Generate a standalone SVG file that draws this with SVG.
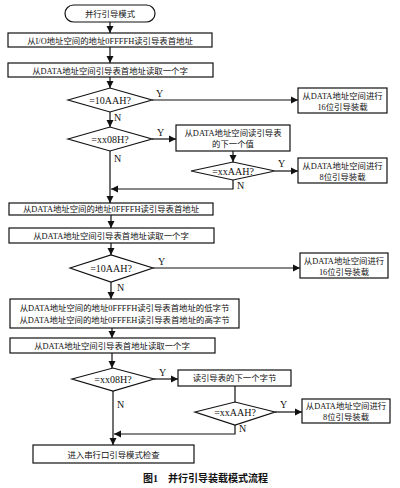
<svg xmlns="http://www.w3.org/2000/svg" width="400" height="488" viewBox="0 0 400 488">
<defs>
<style>
.b{fill:#fff;stroke:#111;stroke-width:1.2}
.t{font-family:"Liberation Serif","Noto Sans CJK SC",serif;font-size:8.4px;fill:#111;text-anchor:middle}
.d{font-family:"Liberation Serif","Noto Sans CJK SC",serif;font-size:10px;fill:#111;text-anchor:middle}
.l{font-family:"Liberation Serif",serif;font-size:10px;fill:#111}
.c{fill:none;stroke:#111;stroke-width:1.2}
.cap{font-family:"Liberation Serif","Noto Sans CJK SC",serif;font-size:10px;font-weight:bold;fill:#111}
</style>
<marker id="a" markerWidth="8" markerHeight="8" refX="7" refY="4" orient="auto" markerUnits="userSpaceOnUse">
<path d="M0,0.5 L7,4 L0,7.5 Z" fill="#111"/>
</marker>
</defs>
<rect width="400" height="488" fill="#fff"/>
<g id="connectors">
<path class="c" d="M110,22 V33" marker-end="url(#a)"/>
<path class="c" d="M110,47 V63" marker-end="url(#a)"/>
<path class="c" d="M110,77 V88" marker-end="url(#a)"/>
<path class="c" d="M152,100 H298" marker-end="url(#a)"/>
<path class="c" d="M110,112 V127" marker-end="url(#a)"/>
<path class="c" d="M152,139 H176" marker-end="url(#a)"/>
<path class="c" d="M233,151 V162" marker-end="url(#a)"/>
<path class="c" d="M275,171 H298" marker-end="url(#a)"/>
<path class="c" d="M233,180 V189 H111" marker-end="url(#a)"/>
<path class="c" d="M110,151 V203" marker-end="url(#a)"/>
<path class="c" d="M111,215 V228" marker-end="url(#a)"/>
<path class="c" d="M111,243 V255" marker-end="url(#a)"/>
<path class="c" d="M153,268 H300" marker-end="url(#a)"/>
<path class="c" d="M111,282 V299" marker-end="url(#a)"/>
<path class="c" d="M112,328 V338" marker-end="url(#a)"/>
<path class="c" d="M112,353 V368" marker-end="url(#a)"/>
<path class="c" d="M154,379 H178" marker-end="url(#a)"/>
<path class="c" d="M235,386 V402"/>
<path class="c" d="M275,412 H302" marker-end="url(#a)"/>
<path class="c" d="M235,425 V434 H114" marker-end="url(#a)"/>
<path class="c" d="M113,391 V445" marker-end="url(#a)"/>
<text class="l" x="156" y="97">Y</text>
<text class="l" x="114" y="121">N</text>
<text class="l" x="157" y="136">Y</text>
<text class="l" x="114" y="162">N</text>
<text class="l" x="278" y="167">Y</text>
<text class="l" x="237" y="189">N</text>
<text class="l" x="158" y="265">Y</text>
<text class="l" x="117" y="291">N</text>
<text class="l" x="159" y="376">Y</text>
<text class="l" x="117" y="408">N</text>
<text class="l" x="280" y="408">Y</text>
<text class="l" x="239" y="432">N</text>
</g>
<g id="start">
<rect class="b" x="65" y="5" width="90" height="17" rx="8.5"/>
<text class="t" x="110" y="17">并行引导模式</text>
</g>
<g id="box1">
<rect class="b" x="8" y="33" width="204" height="14"/>
<text class="t" x="110" y="43.5">从I/O地址空间的地址0FFFFH读引导表首地址</text>
</g>
<g id="box2">
<rect class="b" x="8" y="63" width="205" height="14"/>
<text class="t" x="110" y="73.5">从DATA地址空间引导表首地址读取一个字</text>
</g>
<g id="dec1">
<polygon class="b" points="68,100 110,88 152,100 110,112"/>
<text class="d" x="110" y="103.5">=10AAH?</text>
</g>
<g id="load16a">
<rect class="b" x="298" y="88" width="89" height="25"/>
<text class="t" x="342.5" y="98.5">从DATA地址空间进行</text>
<text class="t" x="342.5" y="109.5">16位引导装载</text>
</g>
<g id="dec2">
<polygon class="b" points="68,139 110,127 152,139 110,151"/>
<text class="d" x="110" y="142.5">=xx08H?</text>
</g>
<g id="readNext">
<rect class="b" x="176" y="125" width="114" height="26"/>
<text class="t" x="233" y="135.5">从DATA地址空间读引导表</text>
<text class="t" x="233" y="147">的下一个值</text>
</g>
<g id="dec3">
<polygon class="b" points="191,171 233,162 275,171 233,180"/>
<text class="d" x="233" y="174.5">=xxAAH?</text>
</g>
<g id="load8a">
<rect class="b" x="298" y="158" width="89" height="25"/>
<text class="t" x="342.5" y="168.5">从DATA地址空间进行</text>
<text class="t" x="342.5" y="179.5">8位引导装载</text>
</g>
<g id="box3">
<rect class="b" x="9" y="203" width="204" height="12"/>
<text class="t" x="111" y="212.2">从DATA地址空间的地址0FFFFH读引导表首地址</text>
</g>
<g id="box4">
<rect class="b" x="9" y="228" width="205" height="15"/>
<text class="t" x="111" y="238.5">从DATA地址空间引导表首地址读取一个字</text>
</g>
<g id="dec4">
<polygon class="b" points="70,268 111,255 153,268 111,282"/>
<text class="d" x="111" y="271.5">=10AAH?</text>
</g>
<g id="load16b">
<rect class="b" x="300" y="253" width="88" height="25"/>
<text class="t" x="344" y="263.5">从DATA地址空间进行</text>
<text class="t" x="344" y="274.5">16位引导装载</text>
</g>
<g id="box5">
<rect class="b" x="10" y="299" width="229" height="29"/>
<text class="t" x="124.5" y="310.5">从DATA地址空间的地址0FFFFH读引导表首地址的低字节</text>
<text class="t" x="124.5" y="322.5">从DATA地址空间的地址0FFFEH读引导表首地址的高字节</text>
</g>
<g id="box6">
<rect class="b" x="10" y="338" width="205" height="15"/>
<text class="t" x="112" y="348.5">从DATA地址空间引导表首地址读取一个字</text>
</g>
<g id="dec5">
<polygon class="b" points="72,379 113,368 154,379 113,391"/>
<text class="d" x="113" y="382.5">=xx08H?</text>
</g>
<g id="readNextByte">
<rect class="b" x="178" y="370" width="113" height="16"/>
<text class="t" x="234.5" y="381">读引导表的下一个字节</text>
</g>
<g id="dec6">
<polygon class="b" points="195,412 235,402 275,412 235,425"/>
<text class="d" x="235" y="415.5">=xxAAH?</text>
</g>
<g id="load8b">
<rect class="b" x="302" y="399" width="88" height="24"/>
<text class="t" x="346" y="409">从DATA地址空间进行</text>
<text class="t" x="346" y="420">8位引导装载</text>
</g>
<g id="end">
<rect class="b" x="33" y="445" width="161" height="18"/>
<text class="t" x="113.5" y="457.5">进入串行口引导模式检查</text>
</g>
<text class="cap" x="143" y="482">图1<tspan dx="10">并行引导装载模式流程</tspan></text>
</svg>
